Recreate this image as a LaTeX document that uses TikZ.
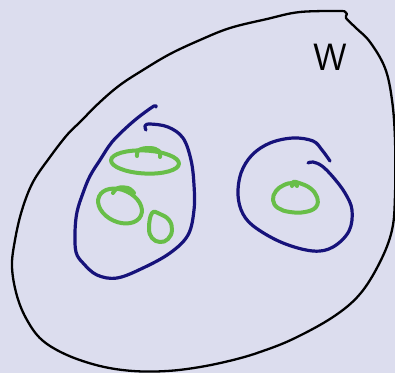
\documentclass[tikz,border=0pt]{standalone}
\usepackage{fontspec}
\definecolor{paper}{RGB}{220,221,238}
\definecolor{inkblue}{RGB}{22,18,122}
\definecolor{inkgreen}{RGB}{104,190,72}
\begin{document}
\begin{tikzpicture}[
  x=1pt, y=-1pt,
  world/.style={draw=black, line width=2.3pt, line cap=round, line join=round},
  part/.style={draw=inkblue, line width=3.2pt, line cap=round, line join=round},
  piece/.style={draw=inkgreen, line width=4pt, line cap=round, line join=round}
]
\fill[paper] (0,0) rectangle (395,373);
\useasboundingbox (0,0) rectangle (395,373);
% outer set
\draw[world] plot[smooth, tension=0.6] coordinates {
  (343,11) (300,12) (267,19) (230,28) (200,40) (170,54) (143,70) (120,85) (100,102)
  (80,122) (67,135) (50,157) (33,182) (22,210) (15,240) (12,267) (17,296) (27,320)
  (42,340) (67,355) (100,366) (133,371) (167,371) (200,367) (233,360) (260,352)
  (293,339) (333,317) (360,294) (380,262) (392,230) (395,195) (395,140) (392,100)
  (385,68) (370,42) (356,28) (346,18) (347,14) (344,11)};
% left part
\draw[part] plot[smooth, tension=0.6] coordinates {
  (156,107) (154,106) (140,116) (127,127) (112,142) (100,160) (90,176) (83,193)
  (77,212) (75,232) (76,252) (83,263) (97,275) (117,278) (143,268) (170,253)
  (188,235) (194,210) (194,185) (191,160) (183,138) (168,127) (150,124)
  (145,126) (146,130)};
% right part
\draw[part] plot[smooth, tension=0.6] coordinates {
  (330,161) (322,150) (313,141) (293,138) (270,143) (252,155) (241,173) (238,195)
  (243,214) (256,228) (283,243) (313,251) (333,247) (349,231) (352,210) (345,193)
  (333,177) (322,166) (313,162) (308,163)};
% pieces, left
\draw[piece, rotate around={-3:(145,162)}] (145,162) ellipse [x radius=34, y radius=11.5];
\draw[piece] plot[smooth, tension=0.7] coordinates {(137,156) (139,150) (150,148) (159,151) (160,157)};
\draw[piece, rotate around={-25:(120,206)}] (120,206) ellipse [x radius=23, y radius=16];
\draw[piece] plot[smooth, tension=0.7] coordinates {(113,193) (118,188) (128,188) (134,193)};
\draw[piece] plot[smooth cycle, tension=0.7] coordinates {
  (152,213) (160,214) (169,220) (172,230) (168,239) (160,242) (152,238) (149,228)};
% piece, right
\draw[piece] plot[smooth, tension=0.7] coordinates {
  (297,186) (293,183) (284,185) (276,191) (273,200) (278,208) (290,212) (305,212)
  (316,207) (317,197) (310,188) (299,183) (293,182) (292,186)};
% label
\node[inner sep=0pt, font=\sffamily\fontsize{38}{38}\selectfont] (wset) at (330,57) {W};
\end{tikzpicture}
\end{document}
